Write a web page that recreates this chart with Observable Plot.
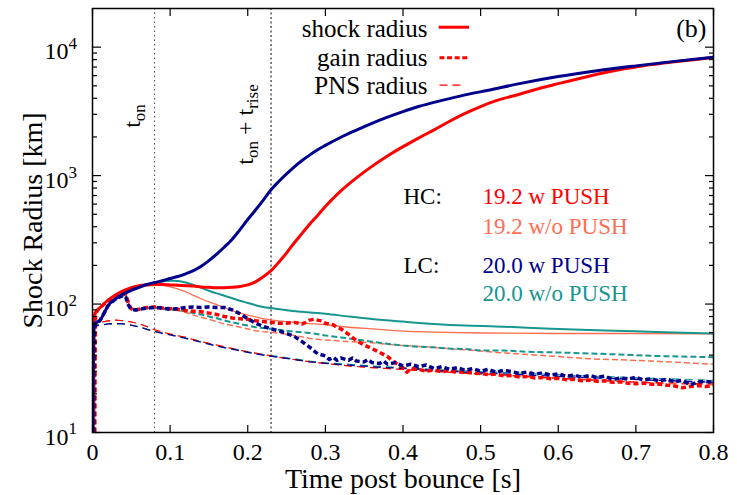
<!DOCTYPE html>
<html><head><meta charset="utf-8">
<script src="https://cdn.jsdelivr.net/npm/d3@7"></script>
<script src="https://cdn.jsdelivr.net/npm/@observablehq/plot@0.6"></script>
<style>body{margin:0;background:#fff}</style>
</head><body><div id="chart"></div>
<script>
// ---- data (time [s], radius [km]) ----
const xTicks = [0, 0.1, 0.2, 0.3, 0.4, 0.5, 0.6, 0.7, 0.8];
const decades = [10, 100, 1000, 10000];
const legendLabels = ["shock radius", "gain radius", "PNS radius"];
const groupLabels = ["HC:", "LC:"];
const modelLabels = ["19.2 w PUSH", "19.2 w/o PUSH", "20.0 w PUSH", "20.0 w/o PUSH"];
const vlines = [0.08, 0.23];
const vlineLabels = ["t_{on}", "t_{on} + t_{rise}"];

const hcPushShock = [[0.0005,10],[0.001,40],[0.0015,70],[0.002,82],[0.005,88],[0.01,94],[0.015,101],[0.02,107],[0.03,118],[0.04,127],[0.05,134],[0.06,139],[0.07,141],[0.08,142],[0.09,142],[0.10,141],[0.11,140],[0.12,139],[0.13,138],[0.14,136],[0.15,135],[0.16,134],[0.17,134],[0.18,135],[0.19,137],[0.20,141],[0.21,149],[0.22,163],[0.23,182],[0.24,212],[0.25,250],[0.26,300],[0.27,355],[0.28,420],[0.29,490],[0.30,575],[0.31,665],[0.32,760],[0.34,960],[0.36,1180],[0.38,1420],[0.40,1680],[0.42,1960],[0.44,2270],[0.46,2650],[0.48,3050],[0.50,3450],[0.52,3830],[0.55,4300],[0.58,4850],[0.60,5200],[0.63,5750],[0.65,6150],[0.68,6700],[0.70,7000],[0.72,7330],[0.75,7700],[0.78,8050],[0.80,8300]];
const hcWoShock = [[0.0005,10],[0.001,40],[0.0015,70],[0.002,82],[0.005,88],[0.01,94],[0.015,101],[0.02,107],[0.03,118],[0.04,127],[0.05,134],[0.06,139],[0.07,141],[0.08,142],[0.09,140],[0.10,136],[0.11,131],[0.12,125],[0.13,117],[0.14,110],[0.15,104],[0.16,99],[0.17,94],[0.18,89],[0.19,85],[0.20,82],[0.21,79.5],[0.22,77],[0.24,74],[0.26,72],[0.28,70.5],[0.30,69],[0.33,66],[0.36,64],[0.40,61.5],[0.44,60.5],[0.50,59.5],[0.60,59],[0.70,59],[0.80,58.5]];
const lcPushShock = [[0.0005,10],[0.001,45],[0.0015,66],[0.002,70],[0.005,72],[0.01,75],[0.015,85],[0.02,97],[0.03,110],[0.04,120],[0.05,128],[0.06,135],[0.07,142],[0.08,147],[0.09,152],[0.10,158],[0.11,164],[0.12,172],[0.13,182],[0.14,197],[0.15,218],[0.16,245],[0.17,278],[0.18,320],[0.19,380],[0.20,455],[0.21,540],[0.22,645],[0.23,775],[0.24,900],[0.25,1030],[0.26,1170],[0.27,1310],[0.28,1450],[0.29,1590],[0.30,1720],[0.32,1990],[0.34,2260],[0.36,2550],[0.38,2850],[0.40,3150],[0.42,3450],[0.45,3850],[0.48,4250],[0.51,4620],[0.55,5200],[0.60,5900],[0.65,6550],[0.70,7150],[0.75,7750],[0.80,8350]];
const lcWoShock = [[0.0005,10],[0.001,45],[0.0015,66],[0.002,70],[0.005,72],[0.01,75],[0.015,85],[0.02,97],[0.03,110],[0.04,120],[0.05,128],[0.06,135],[0.07,142],[0.08,147],[0.09,150],[0.10,152],[0.11,151],[0.12,147],[0.13,141],[0.14,134],[0.15,127],[0.16,121],[0.17,116],[0.18,111],[0.19,106],[0.20,102],[0.21,98],[0.22,95],[0.23,93],[0.25,89.5],[0.27,87],[0.30,84],[0.33,80],[0.36,76.5],[0.40,73],[0.44,70],[0.48,68],[0.52,67],[0.56,65.5],[0.60,64],[0.65,62.5],[0.70,61.5],[0.75,60],[0.80,59]];

const hcPushGain = [[0.003,10],[0.0035,50],[0.004,80],[0.006,89],[0.01,94],[0.02,106],[0.03,116],[0.04,121],[0.043,118],[0.045,108],[0.048,96],[0.05,92],[0.055,90],[0.06,91],[0.07,94],[0.08,95],[0.09,93],[0.10,92],[0.11,91],[0.12,89],[0.13,88],[0.14,87],[0.15,85],[0.16,83],[0.17,80],[0.18,78],[0.19,77],[0.20,76],[0.21,74],[0.22,73],[0.23,72],[0.24,71],[0.25,71],[0.26,72],[0.27,70],[0.275,72],[0.28,75],[0.285,76],[0.29,75],[0.295,74],[0.30,71],[0.305,70],[0.31,69],[0.315,66],[0.32,64],[0.33,58],[0.34,52],[0.35,48],[0.36,45],[0.37,42],[0.38,39],[0.39,35],[0.40,32],[0.405,29.5],[0.41,31.5],[0.42,31],[0.43,30],[0.44,30.6],[0.45,29.8],[0.46,30.3],[0.47,29.5],[0.48,29.6],[0.49,29],[0.50,28.8],[0.51,28.2],[0.52,28.5],[0.53,27.6],[0.54,27.8],[0.55,27],[0.56,27.3],[0.57,26.6],[0.58,26.8],[0.59,26.2],[0.60,26.4],[0.61,25.8],[0.62,26],[0.63,25.3],[0.64,25.6],[0.65,25],[0.66,25.3],[0.67,24.6],[0.68,24.8],[0.69,24.2],[0.70,24],[0.71,24.3],[0.72,23.7],[0.73,23.8],[0.74,23.3],[0.75,23],[0.76,22.3],[0.77,22.8],[0.78,23.2],[0.79,22.8],[0.80,23.3]];
const hcWoGain = [[0.003,10],[0.0035,50],[0.004,80],[0.006,89],[0.01,94],[0.02,106],[0.03,116],[0.04,121],[0.043,118],[0.045,108],[0.048,96],[0.05,92],[0.06,91],[0.08,95],[0.10,91],[0.11,89],[0.12,86],[0.13,82],[0.14,79],[0.15,76],[0.16,73],[0.17,70],[0.18,68],[0.19,66],[0.20,64],[0.21,62],[0.22,61],[0.24,59.5],[0.26,57],[0.28,54],[0.30,52.5],[0.32,51.5],[0.36,50],[0.40,47.5],[0.44,46],[0.48,44],[0.52,42],[0.56,40.5],[0.60,39],[0.64,37.5],[0.68,36.8],[0.72,36],[0.76,35],[0.80,34]];
const lcPushGain = [[0.0015,10],[0.002,50],[0.0025,66],[0.005,70],[0.01,75],[0.02,97],[0.03,110],[0.04,117],[0.043,113],[0.045,102],[0.048,94],[0.05,91],[0.055,90],[0.06,91],[0.07,93],[0.08,94],[0.09,93],[0.10,91],[0.11,92],[0.12,94],[0.13,95],[0.14,94],[0.15,95],[0.16,94],[0.17,94],[0.175,92],[0.18,90],[0.19,84],[0.20,77],[0.21,71],[0.22,67],[0.23,64],[0.24,62],[0.25,59],[0.26,56],[0.27,51],[0.28,46],[0.29,41],[0.30,39.5],[0.305,37],[0.31,38.5],[0.315,36.5],[0.32,38],[0.33,36.5],[0.335,38],[0.34,36],[0.35,35.5],[0.355,37],[0.36,35],[0.37,34.5],[0.375,36],[0.38,34],[0.39,35],[0.40,33],[0.41,34],[0.42,32.5],[0.43,33.5],[0.44,31.5],[0.45,32.5],[0.46,31],[0.47,32],[0.48,30.5],[0.49,31.5],[0.50,30],[0.51,31],[0.52,29.5],[0.53,30.5],[0.54,29.8],[0.55,28.8],[0.56,29.6],[0.57,28.4],[0.58,29.2],[0.59,28],[0.60,28.6],[0.61,27.4],[0.62,28],[0.63,27],[0.64,27.8],[0.65,26.8],[0.66,27.5],[0.67,25.8],[0.68,26.6],[0.69,26],[0.70,27],[0.71,25.6],[0.72,26.2],[0.73,25.2],[0.74,26],[0.75,24.8],[0.76,25.5],[0.77,23.5],[0.78,24.8],[0.79,25],[0.80,24.6]];
const lcWoGain = [[0.0015,10],[0.002,50],[0.0025,66],[0.005,70],[0.01,75],[0.02,97],[0.03,110],[0.04,117],[0.043,113],[0.045,102],[0.048,94],[0.05,91],[0.06,91],[0.08,94],[0.10,91],[0.11,90],[0.12,88],[0.13,85],[0.14,83],[0.15,80],[0.16,77.5],[0.17,74.5],[0.18,72],[0.19,70],[0.20,68],[0.21,66],[0.22,65],[0.24,63],[0.26,61],[0.28,59.5],[0.30,57],[0.32,55],[0.34,53],[0.36,51],[0.38,49],[0.40,47.5],[0.42,46.5],[0.44,46],[0.46,45],[0.48,44.7],[0.50,43.5],[0.53,43.5],[0.56,42.5],[0.60,42],[0.64,41.2],[0.68,40.5],[0.72,39.5],[0.76,39],[0.80,38.6]];

const hcPushPNS = [[0.001,10],[0.0015,60],[0.002,70],[0.01,72],[0.02,74],[0.03,75],[0.04,74],[0.05,72.5],[0.06,70.5],[0.07,67],[0.08,63],[0.09,60.5],[0.10,58.5],[0.12,55],[0.14,51],[0.16,48],[0.18,45],[0.20,42.5],[0.22,40.5],[0.24,38.5],[0.26,37],[0.28,35.5],[0.30,34.5],[0.33,33],[0.36,32],[0.40,31],[0.44,30],[0.48,29],[0.52,28.3],[0.56,27.3],[0.60,26.5],[0.64,25.8],[0.68,25],[0.72,24.5],[0.76,24.2],[0.80,23.9]];
const hcWoPNS = [[0.001,10],[0.0015,60],[0.002,70],[0.01,72],[0.02,74],[0.03,75],[0.04,74],[0.05,72.5],[0.06,70.5],[0.08,63],[0.10,58.5],[0.12,55],[0.14,51],[0.16,48],[0.18,45],[0.20,42.5],[0.22,40.5],[0.24,38.5],[0.26,37],[0.28,35.5],[0.30,34.5],[0.33,33],[0.36,32],[0.40,30.8],[0.44,29.8],[0.48,28.8],[0.52,28],[0.56,27],[0.60,26.2],[0.64,25.5],[0.68,24.8],[0.72,24.2],[0.76,23.8],[0.80,23.5]];
const lcPushPNS = [[0.001,10],[0.0015,60],[0.002,68],[0.01,68.5],[0.02,70],[0.03,70.5],[0.04,70],[0.05,68.5],[0.06,66.5],[0.07,63.5],[0.08,61],[0.09,59],[0.10,57.5],[0.12,54],[0.14,50.5],[0.16,47],[0.18,44.5],[0.20,42],[0.22,40],[0.24,38.5],[0.26,37],[0.28,35.5],[0.30,34.5],[0.33,33.5],[0.36,32.5],[0.40,31.5],[0.44,30.5],[0.48,29.5],[0.52,28.8],[0.56,28],[0.60,27.3],[0.64,26.7],[0.68,26.2],[0.72,25.6],[0.76,25.1],[0.80,24.6]];
const lcWoPNS = [[0.001,10],[0.0015,60],[0.002,68],[0.01,68.5],[0.02,70],[0.04,70],[0.06,66.5],[0.08,61.5],[0.10,58],[0.12,54.5],[0.14,51],[0.16,47.5],[0.18,45],[0.20,42.5],[0.22,40.5],[0.24,39],[0.26,37.5],[0.28,36],[0.30,35],[0.33,34],[0.36,33],[0.40,32],[0.44,31],[0.48,30.2],[0.52,29.5],[0.56,28.8],[0.60,28.2],[0.64,27.5],[0.68,27],[0.72,26.4],[0.76,26],[0.80,25.5]];

// ---- styles ----
const RED = "#ff0000", SALMON = "#ff6e50", NAVY = "#00008b", TEAL = "#17958f";
const FONT = "Liberation Serif";
const layers = [
  [hcWoPNS, SALMON, 1.1, "8,5"], [lcWoPNS, TEAL, 1.1, "8,5"],
  [hcPushPNS, RED, 1.1, "8,5"], [lcPushPNS, NAVY, 1.3, "8,5"],
  [hcWoGain, SALMON, 1.5, "6,3"], [lcWoGain, TEAL, 2, "6,3"],
  [hcWoShock, SALMON, 1.3, null], [lcWoShock, TEAL, 2, null],
  [hcPushGain, RED, 3.5, "5,3"], [lcPushGain, NAVY, 3.5, "5,3"],
  [hcPushShock, RED, 3, null], [lcPushShock, NAVY, 3, null]
];
const lineMarks = layers.map(([data, stroke, w, dash]) =>
  Plot.line(data, {x: d => d[0], y: d => d[1], stroke, strokeWidth: w,
    strokeDasharray: dash, strokeLinecap: "butt", strokeLinejoin: "round",
    curve: dash ? "linear" : "monotone-x", clip: true}));

const minorY = [];
for (const d of [10, 100, 1000]) for (let k = 2; k <= 9; k++) minorY.push(d * k);

// legend sample positions (data space)
const legY = [14300, 8260, 5060];
const legDy = [20.5, 49, 77];
const legSamples = [
  {x1: 0.446, x2: 0.485, y: legY[0], w: 3, dash: null},
  {x1: 0.447, x2: 0.484, y: legY[1], w: 3, dash: "5,2.6"},
  {x1: 0.447, x2: 0.474, y: legY[2], w: 1.1, dash: "8,5"}
];
const txt = (s, o) => Plot.text([s], {text: d => d, fill: "black", lineAnchor: "middle", ...o});

const chart = Plot.plot({
  width: 737, height: 495,
  marginLeft: 92, marginRight: 24, marginTop: 8, marginBottom: 63,
  style: {fontFamily: FONT, background: "white", color: "black"},
  x: {domain: [0, 0.8]},
  y: {type: "log", domain: [10, 20000]},
  marks: [
    Plot.ruleX([vlines[0]], {stroke: "#444", strokeWidth: 1, strokeDasharray: "1.5,3"}),
    Plot.ruleX([vlines[1]], {stroke: "#000", strokeWidth: 1, strokeDasharray: "2,2.5"}),
    ...lineMarks,
    // inward ticks
    Plot.axisY({ticks: decades, tickSize: 8, anchor: "right", frameAnchor: "left", fill: "none", strokeWidth: 1.2}),
    Plot.axisY({ticks: minorY, tickSize: 4, anchor: "right", frameAnchor: "left", fill: "none", strokeWidth: 1.2}),
    Plot.axisY({ticks: decades, tickSize: 8, anchor: "left", frameAnchor: "right", fill: "none", strokeWidth: 1.2}),
    Plot.axisY({ticks: minorY, tickSize: 4, anchor: "left", frameAnchor: "right", fill: "none", strokeWidth: 1.2}),
    Plot.axisX({ticks: xTicks, tickSize: 8, anchor: "top", frameAnchor: "bottom", fill: "none", strokeWidth: 1.2}),
    Plot.axisX({ticks: xTicks, tickSize: 8, anchor: "bottom", frameAnchor: "top", fill: "none", strokeWidth: 1.2}),
    Plot.frame({stroke: "black", strokeWidth: 1.5}),
    // tick labels
    Plot.text(xTicks, {x: d => d, frameAnchor: "bottom", dy: 27, text: d => String(d), fontSize: 24, fill: "black"}),
    Plot.text(decades, {y: d => d, frameAnchor: "left", dx: -24, dy: 4.5, text: () => "10", textAnchor: "end", fontSize: 24, fill: "black"}),
    Plot.text(decades, {y: d => d, frameAnchor: "left", dx: -24, dy: -3.5, text: d => String(Math.round(Math.log10(d))), textAnchor: "start", fontSize: 17, fill: "black"}),
    // axis titles
    Plot.text(["Time post bounce [s]"], {frameAnchor: "bottom", dy: 55, text: d => d, fontSize: 28, fill: "black"}),
    txt("Shock Radius [km]", {frameAnchor: "left", dx: -59, rotate: -90, fontSize: 28, textAnchor: "middle"}),
    // vertical line labels
    Plot.text([vlines[0]], {x: d => d, y: [2910], dx: -22, rotate: -90, text: () => vlineLabels[0], fontSize: 24, fill: "black"}),
    Plot.text([vlines[1]], {x: d => d, y: [2500], dx: -26, rotate: -90, text: () => vlineLabels[1], fontSize: 24, fill: "black"}),
    // legend
    ...legendLabels.map((s, i) => txt(s, {frameAnchor: "top-left", dx: 335, dy: legDy[i], fontSize: 25, textAnchor: "end"})),
    ...legSamples.map(s => Plot.link([s], {x1: "x1", x2: "x2", y1: "y", y2: "y", stroke: RED, strokeWidth: s.w, strokeDasharray: s.dash, strokeLinecap: "butt"})),
    txt("(b)", {frameAnchor: "top-right", dx: -7, dy: 20, fontSize: 26, textAnchor: "end"}),
    // annotations
    txt(groupLabels[0], {frameAnchor: "top-left", dx: 311, dy: 188, fontSize: 23, textAnchor: "start"}),
    txt(groupLabels[1], {frameAnchor: "top-left", dx: 311, dy: 257, fontSize: 23, textAnchor: "start"}),
    txt(modelLabels[0], {frameAnchor: "top-left", dx: 390, dy: 188, fontSize: 23, textAnchor: "start", fill: RED}),
    txt(modelLabels[1], {frameAnchor: "top-left", dx: 390, dy: 218, fontSize: 23, textAnchor: "start", fill: SALMON}),
    txt(modelLabels[2], {frameAnchor: "top-left", dx: 390, dy: 257, fontSize: 23, textAnchor: "start", fill: NAVY}),
    txt(modelLabels[3], {frameAnchor: "top-left", dx: 390, dy: 285, fontSize: 23, textAnchor: "start", fill: TEAL})
  ]
});

document.getElementById("chart").appendChild(chart);
// subscripts for t_on / t_rise labels
d3.select(chart).selectAll("text").each(function() {
  const s = this.textContent;
  if (!s.includes("_{")) return;
  const parts = s.split(/(_\{[^}]*\})/).filter(p => p);
  const el = d3.select(this);
  el.text(null);
  let shifted = false;
  for (const p of parts) {
    if (p.startsWith("_{")) {
      el.append("tspan").attr("dy", 5).attr("font-size", 17).text(p.slice(2, -1));
      shifted = true;
    } else {
      const t = el.append("tspan");
      if (shifted) { t.attr("dy", -5); shifted = false; }
      t.text(p);
    }
  }
});
</script>
</body></html>
